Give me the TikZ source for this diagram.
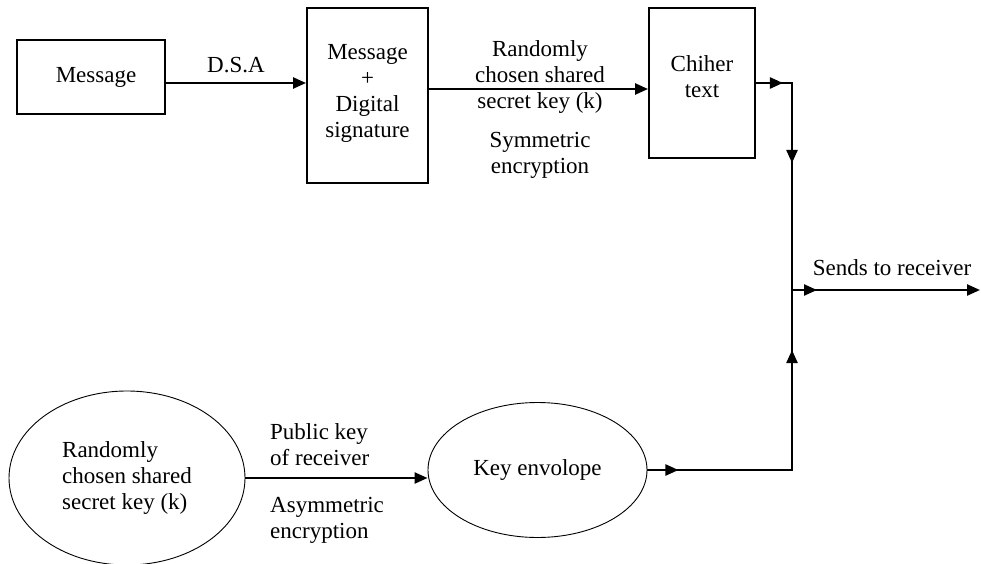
\documentclass[tikz,border=0pt]{standalone}
\usepackage{fontspec}
\setmainfont{Liberation Serif}
\usetikzlibrary{arrows.meta,shapes.geometric}

\tikzset{
	box/.style={draw,line width=1.9pt,inner sep=0pt,align=center},
	oval/.style={draw,ellipse,line width=0.9pt,inner sep=0pt},
	lbl/.style={inner sep=0pt,align=center},
	flow/.style={line width=2.3pt,-{Triangle[length=13pt,width=11pt]}},
	wire/.style={line width=2.3pt},
}

\begin{document}
\begin{tikzpicture}[x=1pt,y=-1pt,every node/.style={font=\fontsize{23}{26}\selectfont}]
	\useasboundingbox (0,0) rectangle (981,564);

	% sender side, top row
	\node[box,minimum width=148pt,minimum height=74pt] (msg) at (91,77) {\hspace*{10pt}Message};
	\node[box,minimum width=121pt,minimum height=175pt] (mds) at (367.5,95.5) {\\[-16pt]Message\\+\\Digital\\signature};
	\node[box,minimum width=106pt,minimum height=150pt] (chi) at (702,83) {Chiher\\text\\[-14pt]};

	\node[lbl] (dsa) at (236,65) {D.S.A};
	\node[lbl] (keytop) at (540,77) {Randomly\\chosen shared\\secret key (k)};
	\node[lbl] (sym) at (540,155) {Symmetric\\encryption};

	\draw[flow] ([yshift=-6pt]msg.east) -- ([yshift=-6pt]msg.east -| mds.west);
	\draw[flow] ([yshift=6.5pt]mds.east) -- ([yshift=6.5pt]mds.east -| chi.west);

	% key row
	\node[oval,minimum width=236pt,minimum height=174pt,align=left] (seed) at (127,478) {Randomly\\chosen shared\\secret key (k)};
	\node[oval,minimum width=219pt,minimum height=135pt] (env) at (537.5,470) {Key envolope};

	\node[lbl,align=left,anchor=west] (pub) at (270,445) {Public key\\of receiver};
	\node[lbl,align=left,anchor=west] (asym) at (270,520) {Asymmetric\\encryption};

	\draw[flow] (seed.east) -- (seed.east -| env.west);

	% joining both parts
	\coordinate (jt) at (792,83);
	\coordinate (jm) at (792,290);
	\coordinate (jb) at (792,470);
	\coordinate (out) at (980,290);

	\draw[wire] (chi.east) -- (jt) -- (jb) -- (env.east);
	\draw[flow] (chi.east) -- ([xshift=27pt]chi.east);
	\draw[flow] (jt) -- ([yshift=-80pt]jt);
	\draw[flow] (jb) -- ([yshift=120pt]jb);
	\draw[flow] (env.east) -- ([xshift=31pt]env.east);

	\node[lbl] (send) at (892,268) {Sends to receiver};
	\draw[flow] (jm) -- ([xshift=25pt]jm);
	\draw[flow] (jm) -- (out);
\end{tikzpicture}
\end{document}
